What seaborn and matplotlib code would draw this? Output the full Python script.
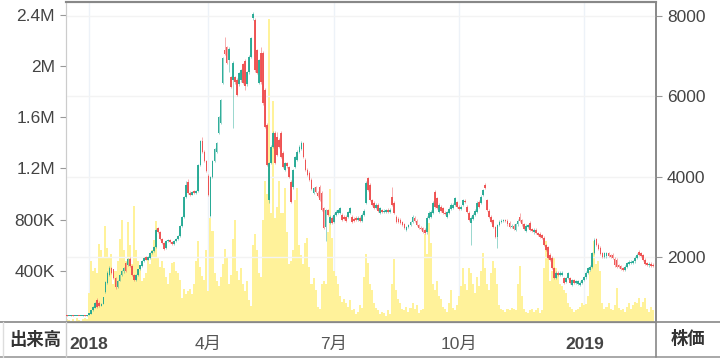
import numpy as np
import pandas as pd
import matplotlib
matplotlib.use("Agg")
import matplotlib.pyplot as plt
from matplotlib.ticker import FuncFormatter
import seaborn as sns

# TSE trading calendar (closed days inside the range)
holidays = ["2018-01-01", "2018-01-02", "2018-01-03", "2018-01-08", "2018-02-12",
            "2018-03-21", "2018-04-30", "2018-05-03", "2018-05-04", "2018-07-16",
            "2018-09-17", "2018-09-24", "2018-10-08", "2018-11-23", "2018-12-24",
            "2018-12-31", "2019-01-01", "2019-01-02", "2019-01-03", "2019-01-14",
            "2019-02-11"]
dates = pd.bdate_range("2017-12-15", "2019-02-25", freq="C", holidays=holidays)

opens = [550, 545, 545, 550, 545, 545, 548, 545, 545, 550, 548, 560, 600, 680, 750, 940, 860, 800, 850, 1130,
         1360, 1560, 1730, 1700, 1480, 1260, 1420, 1560, 1650, 1850, 1800, 1960, 1780, 1560, 1430, 1560, 1700, 1780, 1900, 2000,
         1940, 1980, 2100, 2150, 2250, 2720, 2620, 2460, 2360, 2230, 2400, 2430, 2380, 2330, 2400, 2450, 2520, 2780, 3000, 3490,
         3870, 3600, 3560, 3640, 3600, 3650, 4300, 4900, 4620, 4400, 4020, 3020, 4000, 4400, 4620, 5090, 5340, 6330, 7150, 7220,
         6900, 6480, 6400, 6480, 6410, 6300, 6400, 6800, 6880, 6300, 6600, 6980, 7950, 7900, 7150, 6330, 7080, 7080, 6160, 5300,
         3420, 4340, 4750, 5090, 5000, 4920, 5090, 4600, 4170, 4340, 4240, 3870, 3740, 4240, 4420, 4620, 4700, 4840, 4420, 4170,
         4100, 3920, 3600, 3740, 3600, 3750, 3600, 3220, 2750, 3170, 2850, 2980, 2880, 3050, 3100, 3100, 3050, 3000, 3000, 3000,
         3100, 3000, 2950, 2980, 2920, 2980, 2900, 3050, 3350, 3970, 3800, 3420, 3350, 3220, 3300, 3100, 3170, 3120, 3130, 3180,
         3130, 3500, 3350, 3000, 2950, 2930, 2870, 2820, 2680, 2750, 2800, 2880, 2980, 2900, 2800, 2740, 2720, 2680, 2620, 2980,
         3000, 3100, 3620, 3470, 3120, 3250, 3220, 3100, 3000, 3100, 3200, 3230, 3300, 3370, 3250, 3200, 3300, 3400, 3250, 3100,
         2850, 2950, 3050, 3120, 3380, 3350, 3550, 3790, 3420, 3150, 3000, 2920, 2750, 2500, 2800, 2880, 2900, 2920, 2900, 2850,
         2750, 2780, 2680, 2820, 3000, 2920, 2820, 2650, 2750, 2850, 2700, 2620, 2680, 2600, 2580, 2550, 2480, 2300, 2250, 2060,
         1980, 1730, 1480, 1610, 1560, 1560, 1480, 1380, 1480, 1480, 1310, 1430, 1360, 1340, 1310, 1360, 1430, 1500, 1610, 1680,
         1760, 2100, 2450, 2310, 2230, 2100, 2000, 2020, 2100, 2050, 2060, 1960, 1930, 1800, 1780, 1730, 1680, 1760, 1830, 1860,
         1870, 1900, 1980, 2130, 2100, 2050, 1930, 1850, 1800, 1840, 1810]
highs = [555, 550, 555, 555, 550, 550, 550, 550, 555, 555, 565, 620, 700, 780, 880, 980, 900, 870, 1020, 1400,
         1650, 1780, 1760, 1720, 1500, 1440, 1580, 1680, 1760, 1880, 1980, 2000, 1800, 1580, 1580, 1720, 1820, 1920, 2000, 2030,
         2020, 2120, 2180, 2280, 2720, 2760, 2650, 2490, 2380, 2420, 2460, 2460, 2400, 2420, 2480, 2550, 2800, 3030, 3520, 3900,
         3950, 3640, 3650, 3670, 3680, 4330, 4920, 5000, 4660, 4430, 4060, 4020, 4430, 4730, 4870, 5520, 5940, 6990, 7470, 7260,
         7230, 6520, 6870, 6520, 6450, 6620, 6690, 6840, 6920, 6640, 7020, 7490, 8100, 7950, 7190, 6940, 7230, 7120, 6200, 5340,
         4380, 4790, 5130, 5130, 5110, 4960, 5130, 4640, 4380, 4380, 4280, 3910, 4200, 4530, 4660, 4790, 4880, 4870, 4460, 4210,
         4140, 3960, 3760, 3780, 3640, 3790, 3640, 3260, 3210, 3210, 3040, 3020, 3090, 3170, 3210, 3260, 3090, 3040, 3040, 3160,
         3260, 3040, 2990, 3020, 3020, 3020, 3090, 3190, 3890, 4000, 3840, 3460, 3390, 3340, 3340, 3260, 3210, 3190, 3210, 3220,
         3220, 3740, 3390, 3040, 2990, 2970, 2910, 2860, 2790, 2840, 2910, 3040, 3020, 2940, 2840, 2780, 2760, 2720, 3020, 3140,
         3170, 3390, 3680, 3510, 3340, 3290, 3260, 3140, 3160, 3240, 3340, 3340, 3510, 3410, 3290, 3290, 3460, 3440, 3290, 3140,
         3020, 3090, 3190, 3390, 3420, 3540, 3710, 3850, 3460, 3190, 3040, 2960, 2790, 2840, 2920, 2940, 2960, 2960, 2940, 2890,
         2820, 2820, 2860, 2940, 3100, 2960, 2860, 2820, 2840, 2890, 2740, 2720, 2720, 2640, 2620, 2590, 2520, 2340, 2290, 2100,
         2020, 1770, 1650, 1650, 1660, 1650, 1520, 1520, 1640, 1520, 1470, 1470, 1440, 1440, 1400, 1470, 1540, 1650, 1770, 1800,
         2140, 2470, 2490, 2350, 2270, 2140, 2140, 2140, 2140, 2090, 2100, 2000, 1970, 1840, 1820, 1770, 1800, 1890, 1920, 1920,
         1940, 2020, 2100, 2180, 2140, 2090, 1970, 1890, 1880, 1880, 1850]
lows = [545, 540, 545, 545, 540, 545, 540, 545, 545, 545, 545, 555, 590, 670, 740, 740, 770, 790, 840, 1100,
        1340, 1540, 1590, 1460, 1220, 1240, 1400, 1540, 1620, 1630, 1780, 1770, 1540, 1400, 1410, 1540, 1680, 1760, 1880, 1920,
        1920, 1960, 2080, 2130, 2230, 2600, 2440, 2340, 2170, 2200, 2380, 2360, 2300, 2310, 2380, 2430, 2500, 2760, 2980, 3470,
        3580, 3520, 3540, 3580, 3580, 3630, 4280, 4600, 4380, 4120, 3520, 2990, 3980, 4380, 4600, 5060, 5320, 6300, 7030, 6800,
        6600, 6200, 5210, 6320, 6000, 6270, 6370, 6300, 6150, 6270, 6570, 6950, 7900, 6620, 6550, 6300, 6320, 5800, 5210, 4270,
        3350, 4310, 4720, 4310, 4510, 4710, 4460, 4210, 4140, 4230, 3960, 3340, 3710, 4210, 4390, 4590, 4670, 4460, 4140, 4020,
        3890, 3670, 3570, 3590, 3490, 3390, 3140, 2700, 2400, 3020, 2820, 2820, 2850, 3020, 3070, 3070, 2890, 2920, 2870, 2970,
        3070, 2850, 2870, 2890, 2890, 2870, 2870, 3020, 3320, 3640, 3390, 3270, 3190, 3190, 3120, 3070, 3090, 3090, 3100, 3100,
        3100, 3270, 3070, 2850, 2850, 2820, 2770, 2700, 2650, 2720, 2770, 2850, 2870, 2770, 2700, 2670, 2600, 2570, 2590, 2950,
        2970, 3070, 3220, 3190, 3090, 3120, 3070, 3040, 2970, 3070, 3170, 3200, 3270, 3220, 3170, 3170, 3270, 3350, 3090, 2890,
        2300, 2920, 3020, 3090, 3220, 3320, 3520, 3690, 3140, 2970, 2850, 2720, 2470, 2220, 2770, 2850, 2870, 2870, 2790, 2720,
        2720, 2670, 2650, 2790, 2870, 2790, 2670, 2620, 2720, 2650, 2620, 2590, 2570, 2520, 2470, 2450, 2270, 2150, 1950, 1900,
        1700, 1450, 1450, 1530, 1530, 1530, 1330, 1350, 1450, 1330, 1280, 1330, 1330, 1310, 1280, 1330, 1400, 1470, 1580, 1650,
        1730, 2070, 2280, 2170, 2050, 1970, 1970, 1990, 2000, 1980, 1950, 1770, 1730, 1730, 1680, 1650, 1650, 1730, 1800, 1830,
        1840, 1870, 1950, 2030, 2010, 1900, 1800, 1780, 1770, 1760, 1750]
closes = [545, 545, 550, 545, 545, 548, 545, 545, 550, 548, 560, 610, 690, 760, 860, 760, 790, 850, 1000, 1380,
          1610, 1730, 1610, 1480, 1250, 1420, 1560, 1650, 1740, 1650, 1950, 1790, 1560, 1430, 1560, 1700, 1800, 1900, 1980, 1940,
          2000, 2100, 2150, 2250, 2680, 2620, 2460, 2360, 2200, 2400, 2430, 2380, 2330, 2400, 2450, 2520, 2780, 3000, 3490, 3800,
          3600, 3550, 3620, 3600, 3650, 4300, 4880, 4620, 4400, 4150, 3550, 3990, 4400, 4700, 4840, 5480, 5900, 6950, 7060, 6830,
          7190, 6230, 6830, 6350, 6040, 6580, 6650, 6330, 6260, 6600, 6980, 7450, 8050, 6650, 6580, 6900, 6350, 5830, 5240, 4300,
          4340, 4750, 5090, 4340, 4540, 4740, 4490, 4240, 4340, 4260, 3990, 3370, 4170, 4490, 4620, 4750, 4840, 4490, 4170, 4050,
          3920, 3700, 3720, 3620, 3520, 3420, 3170, 2730, 3170, 3050, 3000, 2850, 3050, 3130, 3170, 3220, 2920, 2950, 2900, 3120,
          3220, 2880, 2900, 2920, 2980, 2900, 3050, 3150, 3850, 3670, 3420, 3300, 3220, 3300, 3150, 3220, 3120, 3150, 3170, 3130,
          3180, 3300, 3100, 2880, 2880, 2850, 2800, 2730, 2750, 2800, 2870, 3000, 2900, 2800, 2730, 2700, 2630, 2600, 2980, 3100,
          3130, 3350, 3250, 3220, 3300, 3150, 3100, 3070, 3120, 3200, 3300, 3300, 3470, 3250, 3200, 3250, 3420, 3380, 3120, 2920,
          2980, 3050, 3150, 3350, 3250, 3500, 3670, 3720, 3170, 3000, 2880, 2750, 2500, 2800, 2880, 2900, 2920, 2900, 2820, 2750,
          2780, 2700, 2820, 2900, 2900, 2820, 2700, 2780, 2800, 2680, 2650, 2680, 2600, 2550, 2500, 2480, 2300, 2180, 1980, 1930,
          1730, 1480, 1610, 1560, 1620, 1610, 1360, 1480, 1600, 1360, 1430, 1360, 1400, 1400, 1360, 1430, 1500, 1610, 1730, 1760,
          2100, 2430, 2310, 2200, 2080, 2000, 2100, 2100, 2030, 2010, 1980, 1800, 1760, 1760, 1710, 1680, 1760, 1850, 1880, 1880,
          1900, 1980, 2060, 2060, 2040, 1930, 1830, 1810, 1840, 1790, 1780]
volume_k = [20, 15, 10, 25, 10, 30, 15, 10, 20, 35, 25, 230, 480, 400, 420, 380, 610, 560, 500, 750,
            580, 500, 530, 300, 400, 480, 650, 800, 560, 480, 780, 600, 450, 910, 560, 480, 420, 320, 340, 380,
            500, 450, 560, 640, 790, 500, 430, 480, 420, 350, 300, 380, 460, 470, 400, 380, 330, 190, 260, 220,
            240, 260, 220, 300, 480, 630, 430, 360, 330, 560, 240, 815, 710, 380, 320, 280, 350, 450, 570, 500,
            300, 370, 650, 800, 400, 330, 420, 300, 240, 320, 170, 125, 600, 690, 560, 380, 350, 800, 1100, 1000,
            2370, 850, 1730, 815, 900, 1100, 850, 850, 1050, 700, 450, 480, 560, 950, 1050, 600, 520, 450, 620, 660,
            430, 300, 340, 250, 120, 100, 300, 320, 300, 700, 1040, 660, 400, 360, 300, 200, 160, 180, 150, 120,
            170, 90, 100, 60, 80, 130, 110, 350, 530, 460, 300, 250, 150, 110, 90, 60, 80, 70, 50, 90,
            60, 300, 490, 250, 180, 150, 100, 90, 120, 80, 110, 150, 100, 130, 70, 90, 100, 690, 530, 770,
            620, 300, 250, 320, 200, 180, 120, 100, 80, 150, 250, 110, 90, 130, 200, 280, 420, 300, 250, 420,
            380, 300, 230, 350, 280, 400, 540, 420, 300, 250, 380, 480, 420, 300, 130, 100, 90, 80, 100, 90,
            110, 100, 90, 300, 440, 200, 100, 80, 70, 90, 100, 80, 90, 110, 70, 90, 420, 635, 540, 320,
            400, 500, 420, 380, 300, 280, 250, 230, 150, 120, 100, 80, 90, 100, 120, 150, 130, 140, 200, 400,
            500, 635, 450, 480, 400, 150, 100, 120, 150, 100, 90, 130, 265, 110, 90, 100, 80, 120, 150, 100,
            130, 160, 150, 190, 120, 160, 190, 100, 80, 120, 90]

quarter_labels = {(2018, 1): "2018", (2018, 4): "4月", (2018, 7): "7月", (2018, 10): "10月", (2019, 1): "2019"}

df = pd.DataFrame({"date": dates, "open": opens, "high": highs, "low": lows,
                   "close": closes, "volume": np.array(volume_k) * 1000})
df["pos"] = np.arange(len(df))
df["up"] = df["close"] >= df["open"]

UP = "#1fa792"
DOWN = "#ee4b4b"
VOL = "#fff29a"

sns.set_style("white")
plt.rcParams["font.family"] = ["Liberation Sans", "Noto Sans CJK JP"]

fig = plt.figure(figsize=(7.2, 3.61), dpi=100)
ax = fig.add_axes([66 / 720, 39 / 361, 590 / 720, 320 / 361])

# volume (left axis)
sns.barplot(data=df, x="pos", y="volume", native_scale=True, color=VOL, saturation=1,
            width=1.0, linewidth=0, errorbar=None, ax=ax, zorder=2)
ax.set_ylim(0, 2.5e6)
ax.set_yticks([400000, 800000, 1200000, 1600000, 2000000, 2400000])
ax.yaxis.set_major_formatter(FuncFormatter(
    lambda v, _: f"{v / 1e6:g}M" if v >= 1e6 else f"{v / 1e3:g}K"))

# candles (right axis)
ax2 = ax.twinx()
colors = np.where(df["up"], UP, DOWN)
ax2.vlines(df["pos"], df["low"], df["high"], colors=colors, linewidth=0.7, alpha=0.45, zorder=3)
body_lo = np.minimum(df["open"], df["close"])
body_h = np.maximum(np.abs(df["close"] - df["open"]), 12)
ax2.bar(df["pos"], body_h, bottom=body_lo, width=0.85, color=colors, linewidth=0, alpha=0.92, zorder=4)
ax2.set_ylim(390, 8350)
ax2.set_yticks([2000, 4000, 6000, 8000])

# quarter ticks
month_start = df["date"].dt.month.ne(df["date"].dt.month.shift())
tick_rows = df[month_start & df["date"].dt.month.isin([1, 4, 7, 10])]
tick_pos = tick_rows["pos"].tolist()
tick_txt = [quarter_labels[(d.year, d.month)] for d in tick_rows["date"]]
ax.set_xlim(-0.5, len(df) + 0.5)
ax.set_xticks(tick_pos)
ax.set_xticklabels(tick_txt)
for lab in ax.get_xticklabels():
    if lab.get_text().isdigit():
        lab.set_fontweight("bold")
        lab.set_color("#444444")
    else:
        lab.set_color("#555555")
ax.set_xlabel("")
ax.set_ylabel("")

ax.xaxis.grid(True, color="#edf2f8", linewidth=1, zorder=0)
ax.set_axisbelow(True)
ax2.yaxis.grid(True, color="#f3f3f3", linewidth=1)

ax.tick_params(axis="x", length=4, width=0.8, color="#aaaaaa", labelsize=12.5, pad=7)
ax.tick_params(axis="y", length=4, width=0.8, color="#999999", labelsize=12.5, labelcolor="#444444", pad=4)
ax2.tick_params(axis="y", length=4, width=0.8, color="#999999", labelsize=12.5, labelcolor="#444444", pad=4)

for a in (ax, ax2):
    a.spines["left"].set_color("#cccccc")
    a.spines["right"].set_color("#888888")
    a.spines["top"].set_color("#888888")
    a.spines["bottom"].set_color("#888888")
    a.spines["top"].set_linewidth(1.5)
    a.spines["right"].set_linewidth(1.2)

# axis strip under the plot
fig.add_artist(plt.Line2D([0, 1], [39 / 361, 39 / 361], color="#888888", linewidth=1.2))
fig.add_artist(plt.Line2D([0, 1], [4 / 361, 4 / 361], color="#999999", linewidth=1.2))
fig.add_artist(plt.Line2D([66 / 720, 66 / 720], [4 / 361, 39 / 361], color="#cccccc", linewidth=1))
fig.add_artist(plt.Line2D([656 / 720, 656 / 720], [4 / 361, 39 / 361], color="#888888", linewidth=1.2))
fig.add_artist(plt.Line2D([3 / 720, 3 / 720], [4 / 361, 39 / 361], color="#dddddd", linewidth=1))
fig.text(35 / 720, 22 / 361, "出来高", ha="center", va="center", fontsize=12.5,
         fontweight="bold", color="#333333")
fig.text(688 / 720, 22 / 361, "株価", ha="center", va="center", fontsize=12.5,
         fontweight="bold", color="#333333")

fig.savefig("out.png", dpi=100)
